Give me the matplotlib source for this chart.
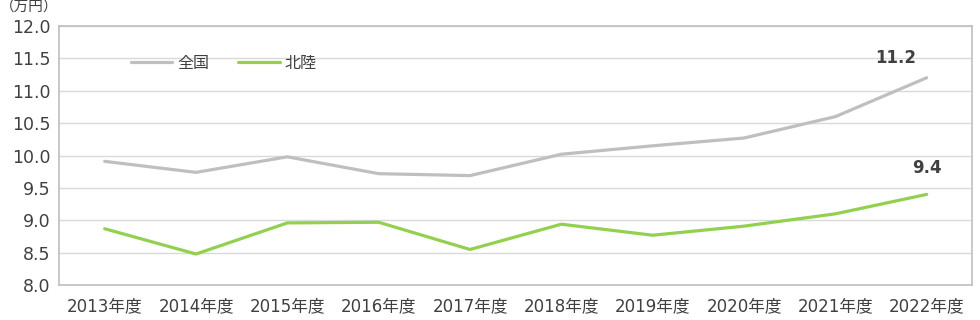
import matplotlib
matplotlib.use('Agg')
import matplotlib.pyplot as plt

years = ['2013年度', '2014年度', '2015年度', '2016年度', '2017年度',
         '2018年度', '2019年度', '2020年度', '2021年度', '2022年度']
zenkoku = [9.91, 9.74, 9.98, 9.72, 9.69, 10.02, 10.15, 10.27, 10.60, 11.2]
hokuriku = [8.87, 8.48, 8.96, 8.97, 8.55, 8.94, 8.77, 8.91, 9.10, 9.4]
yticks = [8.0, 8.5, 9.0, 9.5, 10.0, 10.5, 11.0, 11.5, 12.0]

plt.rcParams['font.family'] = ['DejaVu Sans', 'Noto Sans CJK JP']
text_color = '#404040'

fig = plt.figure(figsize=(9.8, 3.2), dpi=100)
ax = fig.add_axes([0.0602, 0.109, 0.932, 0.81])

x = list(range(len(years)))
ax.plot(x, zenkoku, color='#bfbfbf', lw=2.3, label='全国', solid_capstyle='round')
ax.plot(x, hokuriku, color='#92d050', lw=2.3, label='北陸', solid_capstyle='round')

ax.set_xlim(-0.5, len(years) - 0.5)
ax.set_ylim(8.0, 12.0)
ax.set_yticks(yticks)
ax.set_yticklabels(['%.1f' % v for v in yticks], fontsize=12.5, color=text_color)
ax.set_xticks(x)
ax.set_xticklabels(years, fontsize=12, color=text_color)
ax.tick_params(axis='y', length=0, pad=6)
ax.tick_params(axis='x', length=0, pad=9)
ax.grid(axis='y', color='#d9d9d9', lw=1)
for s in ax.spines.values():
    s.set_color('#bfbfbf')
    s.set_linewidth(1.2)

ax.annotate('%.1f' % zenkoku[-1], (x[-1], zenkoku[-1]), xytext=(-31, 20),
            textcoords='offset pixels', ha='center', va='center',
            fontsize=12, fontweight='bold', color=text_color)
ax.annotate('%.1f' % hokuriku[-1], (x[-1], hokuriku[-1]), xytext=(0, 26),
            textcoords='offset pixels', ha='center', va='center',
            fontsize=12, fontweight='bold', color=text_color)

leg = ax.legend(loc='upper left', bbox_to_anchor=(0.063, 0.94), ncol=2, frameon=False,
                fontsize=11.5, handlelength=2.6, handletextpad=0.3, columnspacing=1.8)
for t in leg.get_texts():
    t.set_color(text_color)

fig.text(0.0, 0.978, '（万円）', fontsize=10.5, color=text_color, va='center', ha='left',
         family=['Noto Sans CJK JP'])

fig.savefig('out.png', dpi=100)
